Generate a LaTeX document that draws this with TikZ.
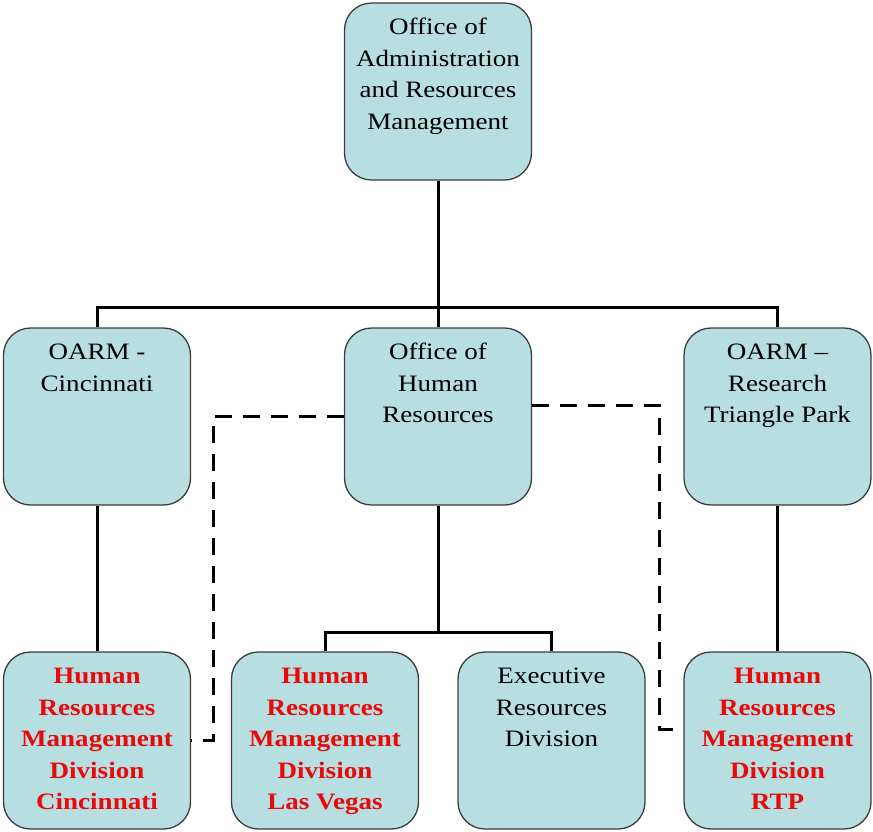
\documentclass[tikz,border=0pt]{standalone}
\usepackage{fontspec}
\setmainfont{Liberation Serif}[FakeStretch=1.15]
\usepackage{xcolor}
\usepackage{tikz}
\usetikzlibrary{calc}

\definecolor{boxfill}{RGB}{183,222,225}
\definecolor{boxline}{RGB}{60,60,60}
\definecolor{hrred}{RGB}{232,10,10}

\newcommand{\orgtext}[1]{\parbox[c][177pt][t]{187pt}{\centering
  \fontsize{23.5}{31.5}\selectfont\rule{0pt}{31.5pt}#1}}
\newcommand{\hrtext}[1]{\orgtext{\color{hrred}\bfseries #1}}

\begin{document}
\begin{tikzpicture}[x=1pt,y=-1pt,
    orgbox/.style={rectangle,draw=boxline,line width=1.3pt,fill=boxfill,
                   rounded corners=27pt,inner sep=0pt,anchor=center},
    link/.style={draw=black,line width=3pt},
    dashline/.style={draw=black,line width=3pt,dash pattern=on 17pt off 11pt},
  ]
  \useasboundingbox (0,0) rectangle (873,831);

  % top level
  \node[orgbox] (oarm) at (438,91.5)
    {\orgtext{Office of\\Administration\\and Resources\\Management}};

  % second level
  \node[orgbox] (cinc) at (97,416.5) {\orgtext{OARM -\\Cincinnati}};
  \node[orgbox] (ohr)  at (438,416.5) {\orgtext{Office of\\Human\\Resources}};
  \node[orgbox] (rtp)  at (777.5,416.5)
    {\orgtext{OARM --\\Research\\Triangle Park}};

  % third level
  \node[orgbox] (hrmdcin) at (97,740.5)
    {\hrtext{Human\\Resources\\Management\\Division\\Cincinnati}};
  \node[orgbox] (hrmdlv)  at (325,740.5)
    {\hrtext{Human\\Resources\\Management\\Division\\Las Vegas}};
  \node[orgbox] (erd)     at (551.5,740.5)
    {\orgtext{Executive\\Resources\\Division}};
  \node[orgbox] (hrmdrtp) at (777.5,740.5)
    {\hrtext{Human\\Resources\\Management\\Division\\RTP}};

  % solid lines
  \draw[link] (oarm.south) -- ++(0,127) coordinate (bus1);
  \draw[link] (cinc.north) |- (bus1) -| (rtp.north);
  \draw[link] (bus1) -- (ohr.north);
  \draw[link] (cinc.south) -- (hrmdcin.north);
  \draw[link] (ohr.south) -- ++(0,127) coordinate (bus2);
  \draw[link] (hrmdlv.north) |- (bus2) -| (erd.north);
  \draw[link] (rtp.south) -- (hrmdrtp.north);

  % dashed lines
  \draw[dashline] (ohr.west) -| ([xshift=22pt]hrmdcin.east) -- (hrmdcin.east);
  \draw[dashline] ([yshift=11.5pt]ohr.east)
    -| ([xshift=-24pt,yshift=11.5pt]hrmdrtp.west) -- ([yshift=11.5pt]hrmdrtp.west);
\end{tikzpicture}
\end{document}
